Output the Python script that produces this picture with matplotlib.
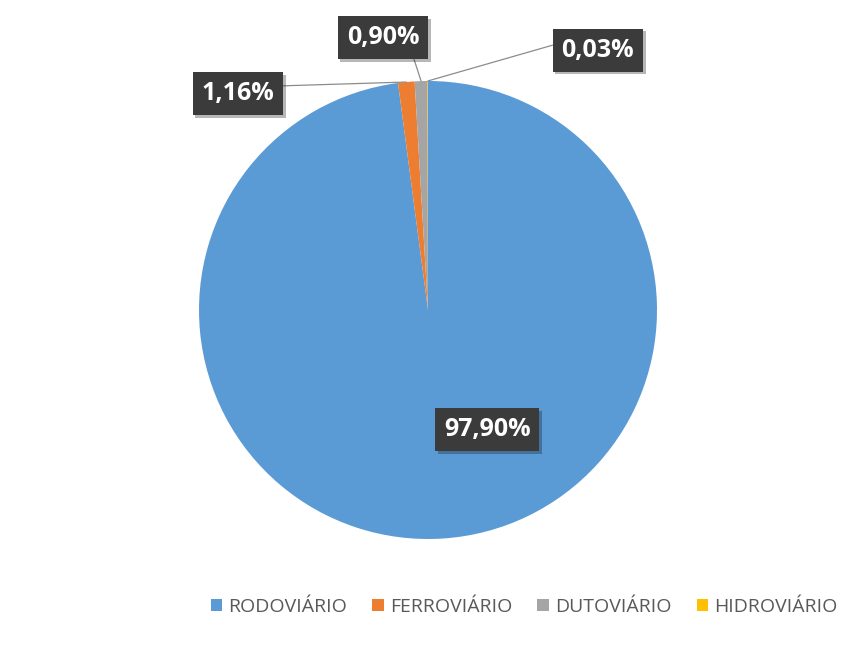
import matplotlib
matplotlib.use('Agg')
import matplotlib.pyplot as plt
import matplotlib.patheffects as pe
import numpy as np

# share of each transport mode (%)
modes = ['RODOVIÁRIO', 'FERROVIÁRIO', 'DUTOVIÁRIO', 'HIDROVIÁRIO']
shares = [97.90, 1.16, 0.90, 0.03]
labels = ['97,90%', '1,16%', '0,90%', '0,03%']
colors = ['#5B9BD5', '#ED7D31', '#A5A5A5', '#FFC000']

# label box centres (data units of the pie axes) and where the leader leaves the box
label_pos = [(0.258, -0.524), (-0.830, 0.945), (-0.197, 1.188), (0.742, 1.135)]
leader_rel = [None, (1.0, 0.80), (0.89, 0.0), (0.0, 0.80)]

W, H = 854, 653
fig = plt.figure(figsize=(W / 100, H / 100), dpi=100)
cx, cy, r = 428, 310, 229
ax = fig.add_axes([(cx - r) / W, (H - cy - r) / H, 2 * r / W, 2 * r / H])

wedges, _ = ax.pie(shares, colors=colors, startangle=90, counterclock=False,
                   radius=1, wedgeprops=dict(linewidth=0))
ax.set_xlim(-1, 1)
ax.set_ylim(-1, 1)
ax.set_aspect('equal')
ax.axis('off')

total = sum(shares)
cum = np.cumsum([0] + shares[:-1])
shadow = [pe.SimplePatchShadow(offset=(2, -2), alpha=0.3), pe.Normal()]
for i, (lab, pos) in enumerate(zip(labels, label_pos)):
    mid = (cum[i] + shares[i] / 2) / total
    ang = np.deg2rad(90 - mid * 360)
    tip = (np.cos(ang), np.sin(ang))
    bbox = dict(boxstyle='square,pad=0.36', fc='#3B3B3B', ec='none')
    if leader_rel[i] is None:
        t = ax.text(pos[0], pos[1], lab, ha='center', va='center', color='white',
                    fontsize=18, fontweight='bold', family='Open Sans', bbox=bbox)
    else:
        t = ax.annotate(lab, xy=tip, xytext=pos, ha='center', va='center',
                        color='white', fontsize=18, fontweight='bold',
                        family='Open Sans', bbox=bbox, annotation_clip=False,
                        arrowprops=dict(arrowstyle='-', color='#8C8C8C', lw=0.9,
                                        shrinkA=0, shrinkB=0,
                                        relpos=leader_rel[i]))
    t.get_bbox_patch().set_path_effects(shadow)

fig.legend(wedges, modes, loc='center', bbox_to_anchor=(524 / W, 1 - 607 / H),
           ncol=4, frameon=False, handlelength=0.6, handleheight=0.6,
           handletextpad=0.3, columnspacing=1.3,
           prop=dict(family='Open Sans', size=14), labelcolor='#595959')

fig.savefig('out.png', dpi=100)
